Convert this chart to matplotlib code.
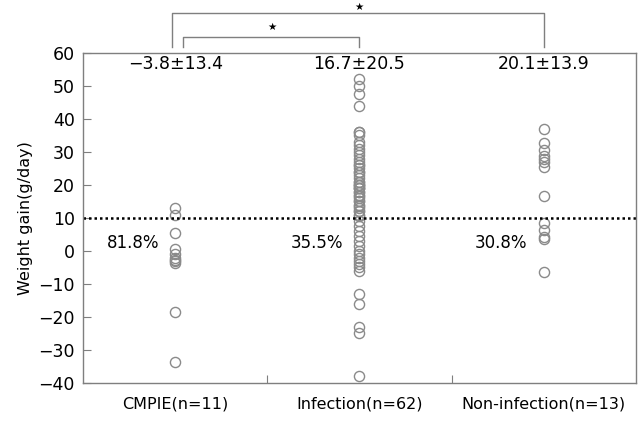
import matplotlib
matplotlib.use("Agg")
import matplotlib.pyplot as plt

plt.rcParams['font.family'] = ['DejaVu Sans']

categories = ["CMPIE(n=11)", "Infection(n=62)", "Non-infection(n=13)"]
summary = ["\u22123.8\u00b113.4", "16.7\u00b120.5", "20.1\u00b113.9"]
percents = ["81.8%", "35.5%", "30.8%"]

cmpie = [13, 11, 5.4, 0.5, -1, -2.2, -2.8, -3, -3.5, -18.4, -33.5]
infection = [52, 50, 47.5, 44,
             36, 35, 32, 29, 26, 24, 21, 20, 19, 18, 16.5, 15, 13.5, 12,
             10.5, 9, 7.5, 6, 4.5, 3, 1.5, 0, -1, -2, -3, -4, -5, -6,
             -13, -16, -23, -25, -38,
             36, 33, 30, 28, 26, 24, 22, 21, 20, 19, 18, 17, 16, 15, 14,
             13, 12, 11, 20, 19, 25, 31, 27, 23]
noninfection = [36.9, 32.6, 30.6, 28.8, 28, 27.1, 25.5, 16.5, 8.6, 6.4, 4.3, 3.5, -6.3]
groups = [cmpie, infection, noninfection]

yticks = [-40, -30, -20, -10, 0, 10, 20, 30, 40, 50, 60]
threshold = 10

fig = plt.figure(figsize=(6.39, 4.21), dpi=100)
ax = fig.add_axes([0.130, 0.0903, 0.865, 0.784])

edge = "#7f7f7f"
for i, vals in enumerate(groups):
    ax.plot([i] * len(vals), vals, linestyle="none", marker="o", markersize=7.3,
            markerfacecolor="none", markeredgecolor="#8a8a8a", markeredgewidth=1.0)
    ax.text(i, 56.5, summary[i], ha="center", va="center", fontsize=12.5)
    ax.text(i - 0.23, 2.3, percents[i], ha="center", va="center", fontsize=12)

ax.axhline(threshold, color="black", linestyle=(0, (1, 1.2)), linewidth=1.8)

ax.set_xlim(-0.5, 2.5)
ax.set_ylim(-40, 60)
ax.set_yticks(yticks)
ax.set_yticklabels([str(t).replace("-", "\u2212") for t in yticks])
ax.set_xticks([0.5, 1.5])
ax.set_xticklabels([])
for i, c in enumerate(categories):
    ax.text(i, -46.5, c, ha="center", va="center", fontsize=11.5)
ax.tick_params(axis="y", direction="in", length=6, color=edge, labelsize=12.5, pad=6)
ax.tick_params(axis="x", direction="in", length=6, color=edge)
for s in ax.spines.values():
    s.set_color(edge)
    s.set_linewidth(1.0)
ax.set_ylabel("Weight gain(g/day)", fontsize=11.5, labelpad=4)

# significance brackets
ax.plot([-0.02, -0.02, 2.0, 2.0], [61.8, 72.1, 72.1, 61.8], color=edge, lw=1.0, clip_on=False)
ax.plot([0.04, 0.04, 1.0, 1.0], [61.8, 64.8, 64.8, 61.8], color=edge, lw=1.0, clip_on=False)
ax.text(1.0, 73.8, "\u2605", ha="center", va="center", fontsize=7.5, clip_on=False)
ax.text(0.525, 68.0, "\u2605", ha="center", va="center", fontsize=7.5, clip_on=False)

fig.savefig("out.png", dpi=100)
